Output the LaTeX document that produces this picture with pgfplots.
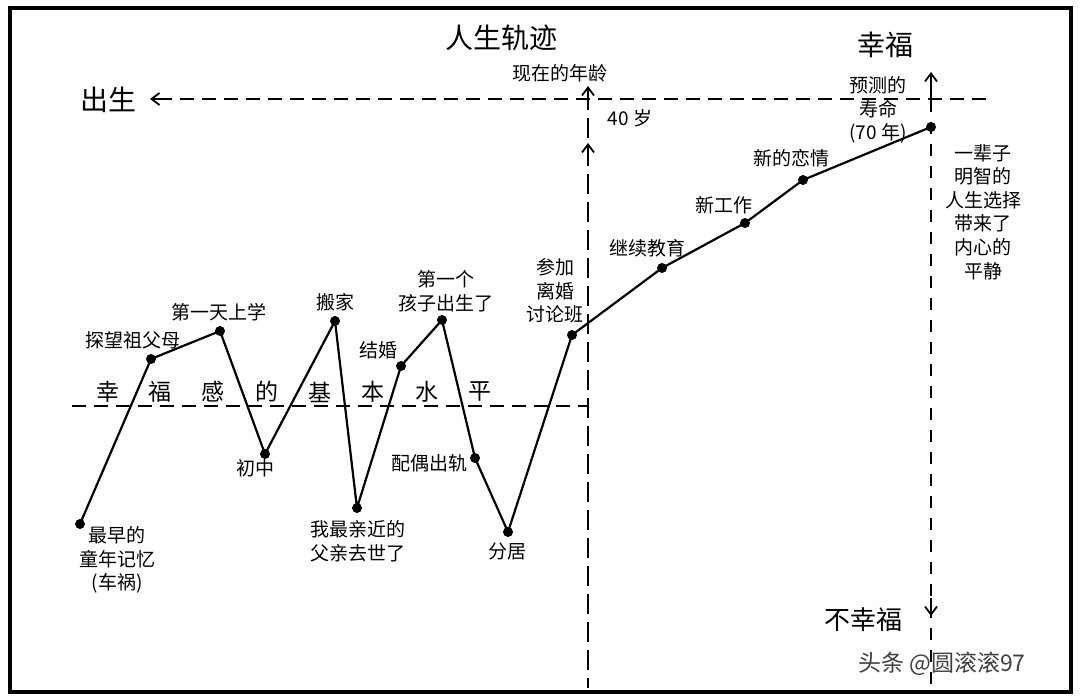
\documentclass[border=0pt]{standalone}
\usepackage{pgfplots}
\pgfplotsset{compat=1.18}
\usepackage{fontspec}
\setmainfont{Noto Sans CJK SC}
\usetikzlibrary{arrows.meta}
\begin{document}
\begin{tikzpicture}
\begin{axis}[
  scale only axis, width=540pt, height=350pt,
  xmin=0, xmax=1080, ymin=0, ymax=700, y dir=reverse,
  hide axis, clip=false,
]
% canvas
\path[fill=white] (axis cs:0,0) rectangle (axis cs:1080,700);
\draw[line width=1.6pt] (axis cs:10,8) rectangle (axis cs:1071,692);
% dashed guide lines
\addplot[black, line width=0.9pt, dash pattern=on 7pt off 4pt] coordinates {(158,99) (990,99)};
\addplot[black, line width=0.9pt, dash pattern=on 7pt off 4pt] coordinates {(72,406) (588,406)};
\addplot[black, line width=0.9pt, dash pattern=on 10pt off 4pt] coordinates {(588,90) (588,688)};
\addplot[black, line width=0.9pt, dash pattern=on 6pt off 5pt] coordinates {(931,100) (931,688)};
% arrowheads
\draw[line width=0.9pt,-{Straight Barb[length=4pt,width=6pt]}] (axis cs:162,99) -- (axis cs:150,99);
\draw[line width=0.9pt,-{Straight Barb[length=4pt,width=6pt]}] (axis cs:588,100) -- (axis cs:588,86);
\draw[line width=0.9pt,-{Straight Barb[length=4pt,width=6pt]}] (axis cs:588,160) -- (axis cs:588,143);
\draw[line width=0.9pt,-{Straight Barb[length=4pt,width=6pt]}] (axis cs:931,100) -- (axis cs:931,72);
\draw[line width=0.9pt,-{Straight Barb[length=4pt,width=6pt]}] (axis cs:931,598) -- (axis cs:931,616);
% life trajectory
\addplot[black, line width=1.1pt, mark=*, mark size=1.9pt] coordinates {
 (80,524) (151,359) (220,331) (265,454) (335,321) (357,508) (401,366)
 (442,320) (475,458) (508,532) (572,335) (662,268) (745,223) (803,180) (931,127)};
% titles
\node[font=\fontsize{14}{16}\selectfont] at (axis cs:501,38) {人生轨迹};
\node[font=\fontsize{14}{16}\selectfont] at (axis cs:885,45) {幸福};
\node[font=\fontsize{14}{16}\selectfont] at (axis cs:108,100) {出生};
\node[font=\fontsize{13}{16}\selectfont] at (axis cs:863,620) {不幸福};
\node[font=\fontsize{11.5}{14}\selectfont, text=black!75] at (axis cs:942,664) {头条 @圆滚滚97};
% baseline label
\begin{scope}[every node/.style={font=\fontsize{11.5}{13}\selectfont}]
\node at (axis cs:108,392) {幸};
\node at (axis cs:160,392) {福};
\node at (axis cs:213,392) {感};
\node at (axis cs:267,392) {的};
\node at (axis cs:320,392) {基};
\node at (axis cs:373,392) {本};
\node at (axis cs:427,392) {水};
\node at (axis cs:480,392) {平};
\end{scope}
% point labels
\begin{scope}[every node/.style={font=\fontsize{9.5}{11.8}\selectfont, align=center, inner sep=0pt}]
\node at (axis cs:560,73) {现在的年龄};
\node at (axis cs:630,118) {40 岁};
\node at (axis cs:878,110) {预测的\\寿命\\(70 年)};
\node at (axis cs:983,212) {一辈子\\明智的\\人生选择\\带来了\\内心的\\平静};
\node at (axis cs:117,560) {最早的\\童年记忆\\(车祸)};
\node at (axis cs:133,340) {探望祖父母};
\node at (axis cs:219,312) {第一天上学};
\node at (axis cs:255,468) {初中};
\node at (axis cs:335,302) {搬家};
\node at (axis cs:358,541) {我最亲近的\\父亲去世了};
\node at (axis cs:378,350) {结婚};
\node at (axis cs:446,291) {第一个\\孩子出生了};
\node at (axis cs:429,463) {配偶出轨};
\node at (axis cs:507,551) {分居};
\node at (axis cs:555,291) {参加\\离婚\\讨论班};
\node at (axis cs:647,248) {继续教育};
\node at (axis cs:724,205) {新工作};
\node at (axis cs:791,158) {新的恋情};
\end{scope}
\end{axis}
\end{tikzpicture}
\end{document}
